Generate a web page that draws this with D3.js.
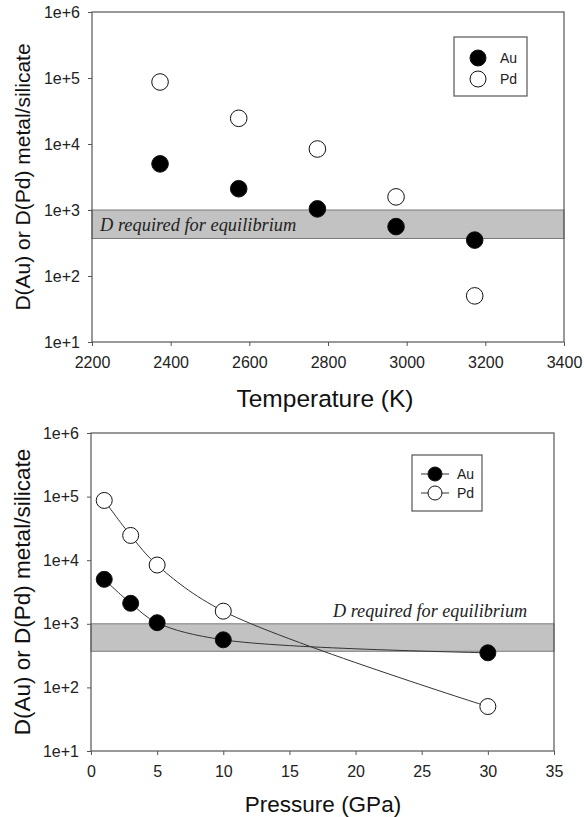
<!DOCTYPE html>
<html>
<head>
<meta charset="utf-8">
<script src="https://cdn.jsdelivr.net/npm/d3@7"></script>
<style>
  html, body { margin: 0; padding: 0; background: #fff; }
  svg { display: block; }
</style>
</head>
<body>
<svg id="chart" width="584" height="817"></svg>
<script>
// ---- data ----
const temperatures = [2373, 2573, 2773, 2973, 3173];
const pressures = [1, 3, 5, 10, 30];
const auValues = [5000, 2100, 1040, 560, 350];
const pdValues = [87000, 24500, 8400, 1580, 50];
const bandRange = [370, 1000];
const yTicks = [1e1, 1e2, 1e3, 1e4, 1e5, 1e6];
const tempTicks = [2200, 2400, 2600, 2800, 3000, 3200, 3400];
const pressureTicks = [0, 5, 10, 15, 20, 25, 30, 35];
const seriesNames = ["Au", "Pd"];
const bandLabel = "D required for equilibrium";
const yTitle = "D(Au) or D(Pd) metal/silicate";

const svg = d3.select("#chart");

function panel(opt) {
  const g = svg.append("g");
  const x = d3.scaleLinear().domain(opt.xDomain).range([opt.left, opt.right]);
  const y = d3.scaleLog().domain([1e1, 1e6]).range([opt.bottom, opt.top]);

  // band
  g.append("rect")
    .attr("x", x(opt.xDomain[0])).attr("width", x(opt.xDomain[1]) - x(opt.xDomain[0]))
    .attr("y", y(bandRange[1])).attr("height", y(bandRange[0]) - y(bandRange[1]))
    .attr("fill", "#c2c2c2").attr("stroke", "#7a7a7a").attr("stroke-width", 1);

  g.append("text")
    .attr("x", opt.bandTextX).attr("y", opt.bandTextY)
    .attr("font-family", "'Liberation Serif', 'Times New Roman', serif")
    .attr("font-style", "italic").attr("font-size", opt.bandFont)
    .attr("fill", "#222").text(bandLabel);

  // frame
  g.append("rect")
    .attr("x", opt.left).attr("y", opt.top)
    .attr("width", opt.right - opt.left).attr("height", opt.bottom - opt.top)
    .attr("fill", "none").attr("stroke", "#555").attr("stroke-width", 1.2);

  // axes
  const xa = g.append("g").attr("transform", `translate(0,${opt.bottom})`)
    .call(d3.axisBottom(x).tickValues(opt.xTicks).tickSizeInner(4).tickSizeOuter(0).tickPadding(11).tickFormat(d3.format("d")));
  const ya = g.append("g").attr("transform", `translate(${opt.left},0)`)
    .call(d3.axisLeft(y).tickValues(yTicks).tickSizeInner(4).tickSizeOuter(0).tickPadding(8)
      .tickFormat(d => "1e+" + Math.round(Math.log10(d))));
  [xa, ya].forEach(a => {
    a.select(".domain").remove();
    a.selectAll("line").attr("stroke", "#555");
    a.selectAll("text").attr("font-family", "'Liberation Sans', Arial, sans-serif")
      .attr("font-size", 16).attr("fill", "#222");
  });

  // titles
  g.append("text")
    .attr("x", opt.xTitleX).attr("y", opt.xTitleY)
    .attr("text-anchor", "middle").attr("dominant-baseline", "central")
    .attr("font-family", "'Liberation Sans', Arial, sans-serif")
    .attr("font-size", opt.xTitleFont).attr("fill", "#111").text(opt.xTitle);
  g.append("text")
    .attr("transform", `translate(22,${(opt.top + opt.bottom) / 2}) rotate(-90)`)
    .attr("text-anchor", "middle").attr("dominant-baseline", "central")
    .attr("font-family", "'Liberation Sans', Arial, sans-serif")
    .attr("font-size", opt.yTitleFont).attr("fill", "#111").text(yTitle);

  const series = [
    { name: seriesNames[0], vals: auValues, fill: "#000" },
    { name: seriesNames[1], vals: pdValues, fill: "#fff" }
  ];

  if (opt.lines) {
    const line = d3.line().x(d => x(d[0])).y(d => y(d[1])).curve(d3.curveCatmullRom.alpha(0.5));
    series.forEach(s => {
      g.append("path")
        .datum(opt.xValues.map((v, i) => [v, s.vals[i]]))
        .attr("d", line).attr("fill", "none").attr("stroke", "#333").attr("stroke-width", 1);
    });
  }
  series.forEach(s => {
    g.append("g").selectAll("circle")
      .data(opt.xValues.map((v, i) => [v, s.vals[i]]))
      .join("circle")
      .attr("cx", d => x(d[0])).attr("cy", d => y(d[1])).attr("r", opt.r)
      .attr("fill", s.fill).attr("stroke", "#111").attr("stroke-width", 1);
  });

  // legend
  const L = opt.legend;
  g.append("rect").attr("x", L.x0).attr("y", L.y0).attr("width", L.x1 - L.x0).attr("height", L.y1 - L.y0)
    .attr("fill", "#fff").attr("stroke", "#555").attr("stroke-width", 1.2);
  series.forEach((s, i) => {
    const cy = L.rows[i];
    if (opt.lines) {
      g.append("line").attr("x1", L.sx - 14).attr("x2", L.sx + 14).attr("y1", cy).attr("y2", cy)
        .attr("stroke", "#333").attr("stroke-width", 1);
    }
    g.append("circle").attr("cx", L.sx).attr("cy", cy).attr("r", L.r)
      .attr("fill", s.fill).attr("stroke", "#111").attr("stroke-width", 1);
    g.append("text").attr("x", L.tx).attr("y", cy).attr("dominant-baseline", "central")
      .attr("font-family", "'Liberation Sans', Arial, sans-serif").attr("font-size", 14)
      .attr("fill", "#222").text(s.name);
  });
}

panel({
  left: 92, right: 564, top: 12, bottom: 342,
  xDomain: [2200, 3400], xTicks: tempTicks, xValues: temperatures,
  xTitle: "Temperature (K)", xTitleX: 325, xTitleY: 398, xTitleFont: 24.5,
  yTitleFont: 21,
  bandTextX: 100, bandTextY: 231, bandFont: 18.4,
  r: 8.3, lines: false,
  legend: { x0: 454, x1: 527, y0: 37, y1: 96, sx: 478, tx: 500, rows: [58, 79], r: 8 }
});

panel({
  left: 91, right: 554, top: 433, bottom: 751,
  xDomain: [0, 35], xTicks: pressureTicks, xValues: pressures,
  xTitle: "Pressure (GPa)", xTitleX: 323, xTitleY: 804, xTitleFont: 22.5,
  yTitleFont: 22.5,
  bandTextX: 333, bandTextY: 617, bandFont: 18.2,
  r: 8, lines: true,
  legend: { x0: 412, x1: 482, y0: 455, y1: 511, sx: 435, tx: 457, rows: [474, 493], r: 7 }
});
</script>
</body>
</html>
